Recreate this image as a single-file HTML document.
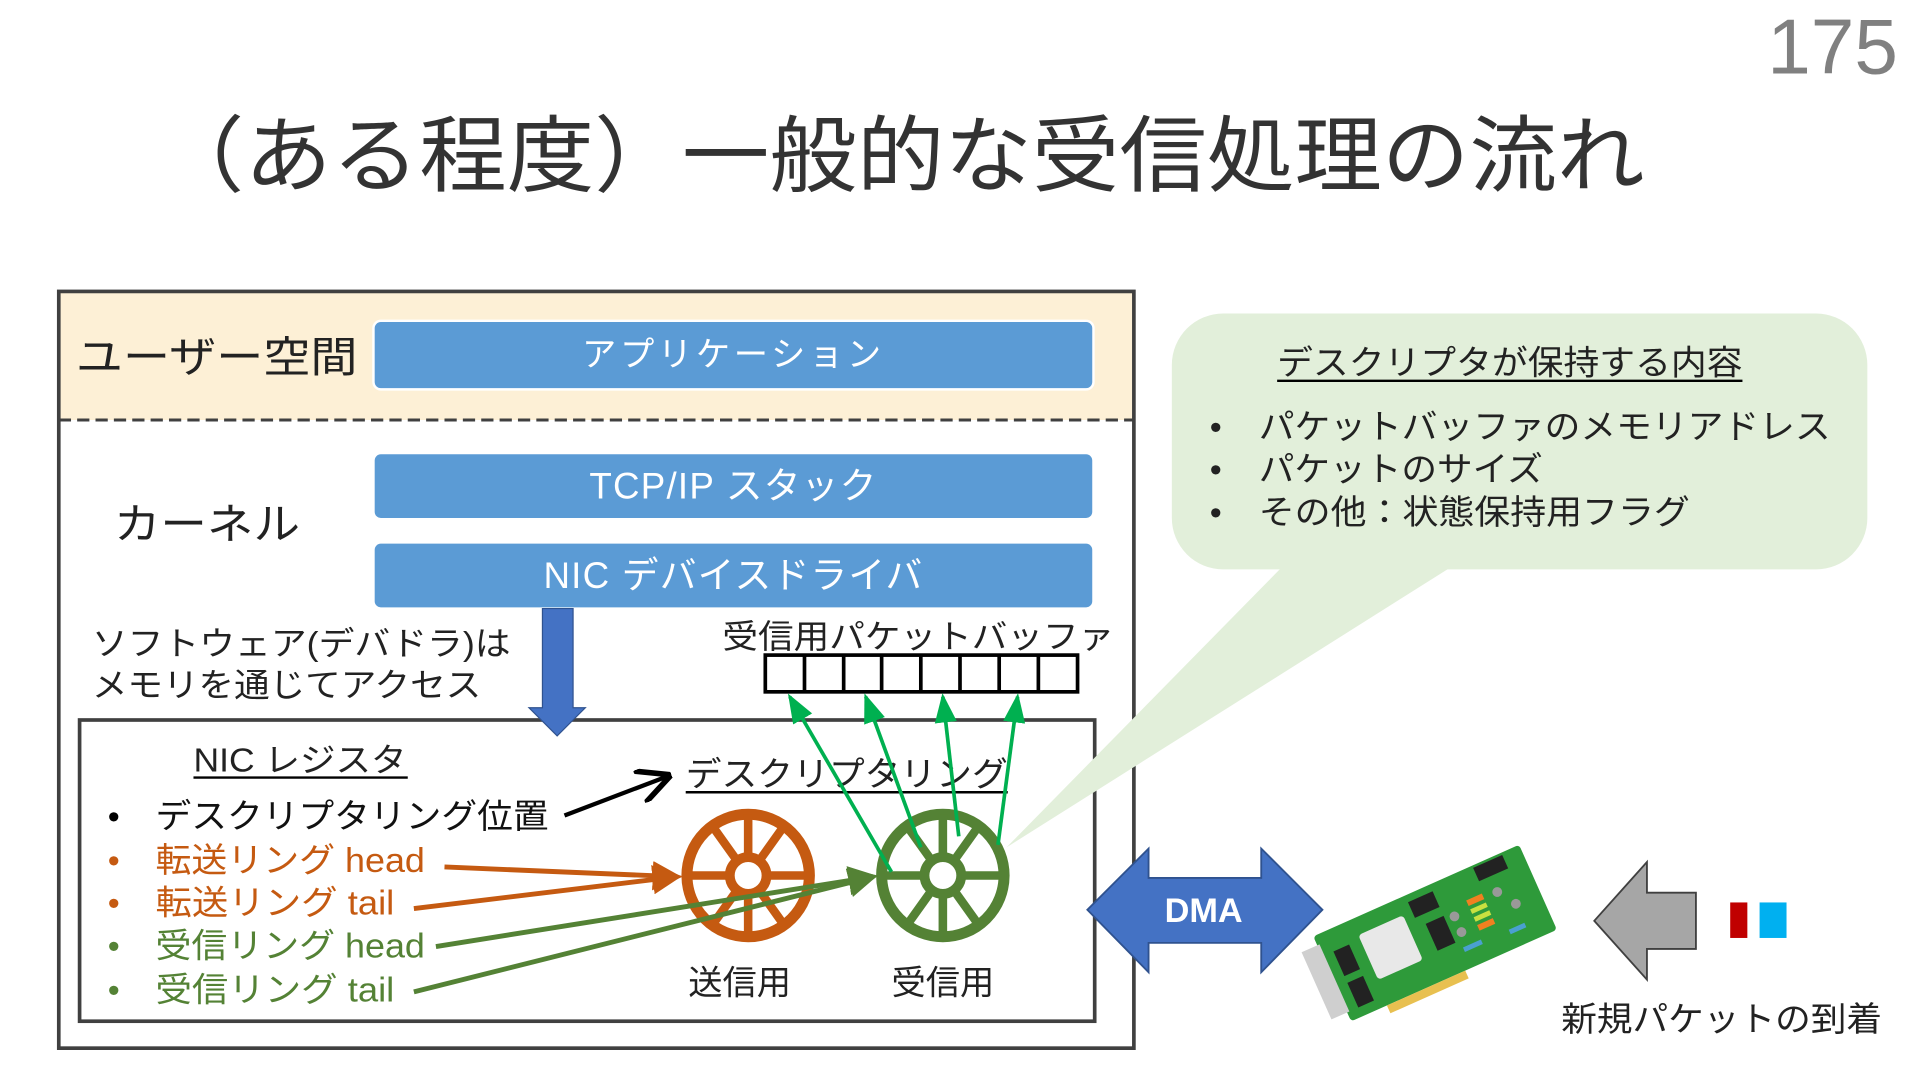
<!DOCTYPE html>
<html><head><meta charset="utf-8"><style>
html,body{margin:0;padding:0;background:#fff;overflow:hidden}
svg{display:block}
text{font-family:"Liberation Sans","Noto Sans CJK JP",sans-serif}
</style></head><body>
<svg width="1920" height="1080" viewBox="0 0 1568 882" xmlns="http://www.w3.org/2000/svg">
<defs>
<marker id="ao" markerWidth="6" markerHeight="6" refX="5" refY="3" orient="auto" markerUnits="strokeWidth"><path d="M0,0 L6,3 L0,6 z" fill="#c55a11"/></marker>
<marker id="ag" markerWidth="6" markerHeight="6" refX="5" refY="3" orient="auto" markerUnits="strokeWidth"><path d="M0,0 L6,3 L0,6 z" fill="#548235"/></marker>
<marker id="ab" markerWidth="8" markerHeight="8" refX="7" refY="4" orient="auto" markerUnits="strokeWidth"><path d="M0,0 L8,4 L0,8" fill="none" stroke="#000" stroke-width="1.3"/></marker>
<marker id="agg" markerWidth="8" markerHeight="8" refX="7" refY="4" orient="auto" markerUnits="strokeWidth"><path d="M0,1 L8,4 L0,7 z" fill="#00b050"/></marker>
</defs>
<text x="1550" y="60" text-anchor="end" font-size="64" fill="#808080" font-weight="300">175</text>
<text x="128" y="151" font-size="68" fill="#333" textLength="1215" lengthAdjust="spacingAndGlyphs">（ある程度）一般的な受信処理の流れ</text>

<!-- outer box -->
<rect x="48" y="238" width="878" height="105" fill="#fdf0d6"/>
<rect x="48" y="238" width="878" height="618" fill="none" stroke="#404040" stroke-width="3"/>
<line x1="48" y1="343" x2="926" y2="343" stroke="#404040" stroke-width="2.5" stroke-dasharray="10,5"/>
<text x="62" y="304" font-size="35" fill="#222" textLength="230" lengthAdjust="spacingAndGlyphs">ユーザー空間</text>
<rect x="305" y="262" width="588" height="56" rx="6" fill="#5b9bd5" stroke="#fff" stroke-width="2"/>
<text x="599" y="299" font-size="28" fill="#fff" text-anchor="middle" letter-spacing="3">アプリケーション</text>
<text x="93" y="440" font-size="35" fill="#222" textLength="152" lengthAdjust="spacingAndGlyphs">カーネル</text>
<rect x="305" y="370" width="588" height="54" rx="6" fill="#5b9bd5" stroke="#fff" stroke-width="2"/>
<text x="599" y="407" font-size="30" fill="#fff" text-anchor="middle" letter-spacing="1">TCP/IP スタック</text>
<rect x="305" y="443" width="588" height="54" rx="6" fill="#5b9bd5" stroke="#fff" stroke-width="2"/>
<text x="599" y="480" font-size="30" fill="#fff" text-anchor="middle" letter-spacing="1">NIC デバイスドライバ</text>
<text x="75" y="535" font-size="27" fill="#222" textLength="342" lengthAdjust="spacingAndGlyphs">ソフトウェア(デバドラ)は</text>
<text x="75" y="569" font-size="27" fill="#222" textLength="318" lengthAdjust="spacingAndGlyphs">メモリを通じてアクセス</text>
<text x="590" y="529" font-size="27" fill="#222" textLength="320" lengthAdjust="spacingAndGlyphs">受信用パケットバッファ</text>
<rect x="625" y="535" width="255" height="30" fill="#fff" stroke="#000" stroke-width="3"/>
<g stroke="#000" stroke-width="3">
<line x1="657" y1="535" x2="657" y2="565"/><line x1="689" y1="535" x2="689" y2="565"/><line x1="720" y1="535" x2="720" y2="565"/><line x1="752" y1="535" x2="752" y2="565"/><line x1="784" y1="535" x2="784" y2="565"/><line x1="816" y1="535" x2="816" y2="565"/><line x1="848" y1="535" x2="848" y2="565"/>
</g>

<!-- inner box -->
<rect x="65" y="588" width="829" height="246" fill="#fff" stroke="#404040" stroke-width="3"/>
<path d="M443,497 L468,497 L468,578 L478,578 L455,601 L432,578 L443,578 z" fill="#4472c4" stroke="#2f528f" stroke-width="1"/>
<text x="158" y="630" font-size="27" fill="#222" textLength="174" lengthAdjust="spacingAndGlyphs">NIC レジスタ</text>
<line x1="158" y1="635" x2="333" y2="635" stroke="#000" stroke-width="2"/>
<g font-size="28">
<text x="88" y="676" fill="#000">•</text><text x="127" y="676" fill="#111" textLength="321" lengthAdjust="spacingAndGlyphs">デスクリプタリング位置</text>
<text x="88" y="712" fill="#c55a11">•</text><text x="127" y="712" fill="#c55a11" textLength="220" lengthAdjust="spacingAndGlyphs">転送リング head</text>
<text x="88" y="747" fill="#c55a11">•</text><text x="127" y="747" fill="#c55a11" textLength="195" lengthAdjust="spacingAndGlyphs">転送リング tail</text>
<text x="88" y="782" fill="#548235">•</text><text x="127" y="782" fill="#548235" textLength="220" lengthAdjust="spacingAndGlyphs">受信リング head</text>
<text x="88" y="818" fill="#548235">•</text><text x="127" y="818" fill="#548235" textLength="195" lengthAdjust="spacingAndGlyphs">受信リング tail</text>
</g>
<line x1="461" y1="666" x2="545" y2="634" stroke="#000" stroke-width="3.5" marker-end="url(#ab)"/>
<text x="560" y="642" font-size="28" fill="#222" textLength="263" lengthAdjust="spacingAndGlyphs">デスクリプタリング</text>
<line x1="560" y1="647" x2="823" y2="647" stroke="#000" stroke-width="2"/>

<!-- wheels -->
<g stroke="#c55a11" fill="none">
<circle cx="611" cy="715" r="50" stroke-width="9"/>
<circle cx="611" cy="715" r="15" stroke-width="8"/>
<g stroke-width="7">
<line x1="611" y1="665" x2="611" y2="700"/><line x1="611" y1="730" x2="611" y2="765"/>
<line x1="561" y1="715" x2="596" y2="715"/><line x1="626" y1="715" x2="661" y2="715"/>
<line x1="582" y1="675" x2="602" y2="703"/><line x1="640" y1="675" x2="620" y2="703"/>
<line x1="582" y1="755" x2="602" y2="727"/><line x1="640" y1="755" x2="620" y2="727"/>
</g></g>
<g stroke="#548235" fill="none">
<circle cx="770" cy="715" r="50" stroke-width="9"/>
<circle cx="770" cy="715" r="15" stroke-width="8"/>
<g stroke-width="7">
<line x1="770" y1="665" x2="770" y2="700"/><line x1="770" y1="730" x2="770" y2="765"/>
<line x1="720" y1="715" x2="755" y2="715"/><line x1="785" y1="715" x2="820" y2="715"/>
<line x1="741" y1="675" x2="761" y2="703"/><line x1="799" y1="675" x2="779" y2="703"/>
<line x1="741" y1="755" x2="761" y2="727"/><line x1="799" y1="755" x2="779" y2="727"/>
</g></g>
<text x="604" y="812" font-size="28" fill="#222" text-anchor="middle">送信用</text>
<text x="770" y="812" font-size="28" fill="#222" text-anchor="middle">受信用</text>

<!-- register arrows -->
<line x1="363" y1="708" x2="553" y2="716" stroke="#c55a11" stroke-width="4" marker-end="url(#ao)"/>
<line x1="338" y1="742" x2="553" y2="716" stroke="#c55a11" stroke-width="4" marker-end="url(#ao)"/>
<line x1="356" y1="773" x2="713" y2="716" stroke="#548235" stroke-width="4" marker-end="url(#ag)"/>
<line x1="338" y1="810" x2="713" y2="716" stroke="#548235" stroke-width="4" marker-end="url(#ag)"/>

<!-- callout -->
<path d="M1050,460 L1190,460 L822,692 z" fill="#e2efda"/>
<rect x="957" y="256" width="568" height="209" rx="42" fill="#e2efda"/>
<text x="1043" y="306" font-size="28" fill="#222" textLength="380" lengthAdjust="spacingAndGlyphs">デスクリプタが保持する内容</text>
<line x1="1043" y1="311" x2="1423" y2="311" stroke="#000" stroke-width="2"/>
<g font-size="28" fill="#222">
<text x="988" y="358">•</text><text x="1028" y="358" textLength="467" lengthAdjust="spacingAndGlyphs">パケットバッファのメモリアドレス</text>
<text x="988" y="393">•</text><text x="1028" y="393" textLength="232" lengthAdjust="spacingAndGlyphs">パケットのサイズ</text>
<text x="988" y="428">•</text><text x="1028" y="428" textLength="352" lengthAdjust="spacingAndGlyphs">その他：状態保持用フラグ</text>
</g>

<!-- green arrows to buffer -->
<g stroke="#00b050" stroke-width="3">
<line x1="728" y1="712" x2="645" y2="569" marker-end="url(#agg)"/>
<line x1="752" y1="692" x2="707" y2="569" marker-end="url(#agg)"/>
<line x1="783" y1="683" x2="770" y2="569" marker-end="url(#agg)"/>
<line x1="815" y1="690" x2="831" y2="569" marker-end="url(#agg)"/>
</g>

<!-- DMA -->
<path d="M888,743 L938,693 L938,717 L1030,717 L1030,693 L1080,743 L1030,794 L1030,770 L938,770 L938,794 z" fill="#4472c4" stroke="#2f528f" stroke-width="1.5"/>
<text x="983" y="753" font-size="28" font-weight="bold" fill="#fff" text-anchor="middle">DMA</text>

<!-- NIC card -->
<g transform="translate(1172,762) rotate(-24)">
<rect x="-92" y="-38" width="184" height="76" rx="3" fill="#2e9a3a"/>
<rect x="-60" y="38" width="70" height="7" fill="#e8c050"/>
<rect x="-106" y="-30" width="16" height="60" fill="#cfcfcf"/>
<rect x="-58" y="-24" width="40" height="40" rx="3" fill="#e8e8e8"/>
<rect x="-82" y="-20" width="14" height="22" fill="#222"/>
<rect x="-82" y="8" width="14" height="22" fill="#222"/>
<rect x="-10" y="-32" width="22" height="14" fill="#222"/>
<rect x="-4" y="-10" width="16" height="24" fill="#222"/>
<rect x="50" y="-36" width="26" height="12" fill="#222"/>
<rect x="34" y="-14" width="14" height="5" fill="#f08020"/>
<rect x="34" y="-6" width="14" height="4" fill="#c8e040"/>
<rect x="34" y="1" width="14" height="4" fill="#c8e040"/>
<rect x="34" y="8" width="14" height="5" fill="#f08020"/>
<circle cx="60" cy="-10" r="4" fill="#999"/><circle cx="70" cy="5" r="4" fill="#999"/><circle cx="20" cy="-6" r="4" fill="#999"/><circle cx="20" cy="8" r="4" fill="#999"/>
<rect x="16" y="20" width="16" height="4" fill="#4aa0d0"/><rect x="56" y="22" width="14" height="4" fill="#4aa0d0"/>
</g>

<!-- gray arrow -->
<path d="M1302,752 L1345,704 L1345,729 L1385,729 L1385,775 L1345,775 L1345,800 z" fill="#a6a6a6" stroke="#404040" stroke-width="1.5"/>
<rect x="1413" y="737" width="14" height="29" fill="#c00000"/>
<rect x="1437" y="737" width="22" height="29" fill="#00b0f0"/>
<text x="1275" y="842" font-size="28" fill="#222" textLength="262" lengthAdjust="spacingAndGlyphs">新規パケットの到着</text>
</svg>
</body></html>
